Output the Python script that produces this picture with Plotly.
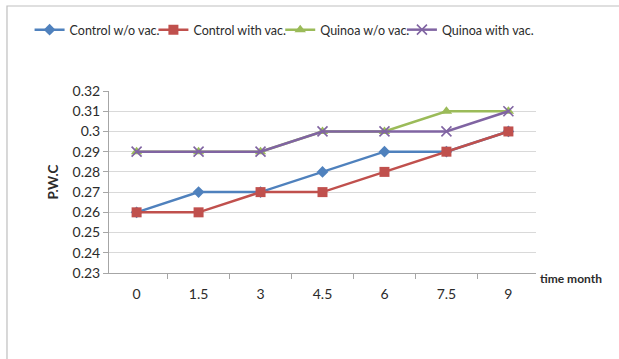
import plotly.graph_objects as go

# Storage time (months) and P.W.C values per treatment
months = ["0", "1.5", "3", "4.5", "6", "7.5", "9"]
control_wo_vac = [0.26, 0.27, 0.27, 0.28, 0.29, 0.29, 0.30]
control_with_vac = [0.26, 0.26, 0.27, 0.27, 0.28, 0.29, 0.30]
quinoa_wo_vac = [0.29, 0.29, 0.29, 0.30, 0.30, 0.31, 0.31]
quinoa_with_vac = [0.29, 0.29, 0.29, 0.30, 0.30, 0.30, 0.31]

y_ticks = [0.23, 0.24, 0.25, 0.26, 0.27, 0.28, 0.29, 0.30, 0.31, 0.32]
y_tick_labels = ["0.23", "0.24", "0.25", "0.26", "0.27", "0.28", "0.29", "0.3", "0.31", "0.32"]

FONT = "Lato, 'Open Sans', sans-serif"
TEXT = "#2b2b2b"
GRID = "#d9d9d9"

series = [
    ("Control w/o vac.", control_wo_vac, "#4F81BD", dict(symbol="diamond", size=9)),
    ("Control with vac.", control_with_vac, "#C0504D", dict(symbol="square", size=10)),
    ("Quinoa w/o vac.", quinoa_wo_vac, "#9BBB59", dict(symbol="triangle-up", size=10)),
    ("Quinoa with vac.", quinoa_with_vac, "#8064A2", dict(symbol="x-thin", size=10,
                                                          line=dict(width=1.6, color="#8064A2"))),
]

# one single-entry legend per series so the row keeps its spacing
legend_ids = ["legend", "legend2", "legend3", "legend4"]
legend_x = [-0.186, 0.104, 0.401, 0.686]

fig = go.Figure()
for (name, vals, color, marker), lid in zip(series, legend_ids):
    fig.add_trace(go.Scatter(
        x=months, y=vals, name=name, mode="lines+markers",
        line=dict(color=color, width=2.5),
        marker=dict(color=color, **marker),
        legend=lid,
    ))

legend_common = dict(
    orientation="h", y=1.335, xanchor="left", yanchor="middle",
    font=dict(family=FONT, size=12.5, color=TEXT),
    itemwidth=30, bgcolor="rgba(0,0,0,0)",
)

fig.update_layout(
    width=619, height=359,
    margin=dict(l=109, r=83, t=91, b=86, autoexpand=False),
    paper_bgcolor="white", plot_bgcolor="white",
    font=dict(family=FONT, size=13, color=TEXT),
    showlegend=True,
    **{lid: dict(x=lx, **legend_common) for lid, lx in zip(legend_ids, legend_x)},
    xaxis=dict(
        type="category", tickson="boundaries", ticks="outside", ticklen=5,
        tickcolor="#a6a6a6", showline=True, linecolor="#a6a6a6", linewidth=1,
        showgrid=False, tickfont=dict(size=14, color=TEXT), fixedrange=True,
        ticklabelstandoff=8,
    ),
    yaxis=dict(
        range=[0.23, 0.32], tickvals=y_ticks, ticktext=y_tick_labels,
        ticks="outside", ticklen=5, tickcolor="#a6a6a6",
        showline=True, linecolor="#a6a6a6", linewidth=1,
        showgrid=True, gridcolor=GRID, gridwidth=1, zeroline=False,
        tickfont=dict(size=14, color=TEXT), fixedrange=True,
        title=dict(text="<b>P.W.C</b>", font=dict(size=13.5, color=TEXT), standoff=10),
    ),
    annotations=[
        dict(text="<b>time month</b>", xref="paper", yref="paper",
             x=1.005, y=-0.03, xanchor="left", yanchor="middle", showarrow=False,
             font=dict(family=FONT, size=12, color=TEXT)),
    ],
    shapes=[
        dict(type="rect", xref="paper", yref="paper",
             x0=-0.2389, x1=1.3, y0=-0.6, y1=1.467,
             line=dict(color="#bfbfbf", width=1.2), fillcolor="rgba(0,0,0,0)",
             layer="below"),
    ],
)

fig.write_html("out.html")
